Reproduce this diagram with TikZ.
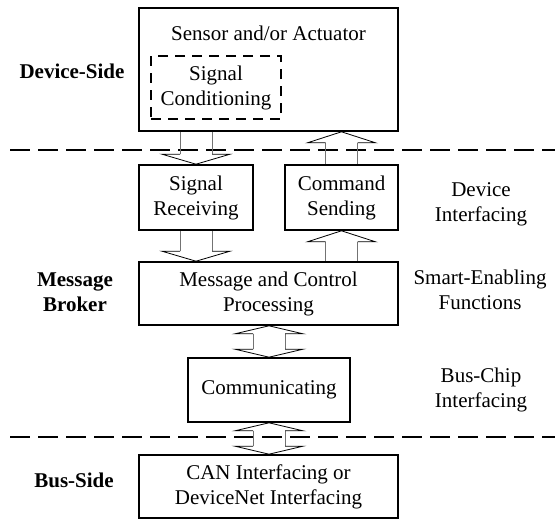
\documentclass[tikz,border=0pt]{standalone}
\usepackage{fontspec}
\setmainfont{Liberation Serif}
\usetikzlibrary{calc,positioning}

% shaft of a hollow arrow, #1 to #2
\newcommand{\hollowshaft}[2]{%
  \draw[shaft line] ($(#1)+(-16,0)$) -- ($(#2)+(-16,0)$)
                    ($(#1)+(16,0)$) -- ($(#2)+(16,0)$);}
% head of a hollow arrow, tip #1, base #2
\newcommand{\hollowhead}[2]{%
  \draw[head line] ($(#2)+(-16,0)$) -- ($(#2)+(-34,0)$) -- (#1)
                   -- ($(#2)+(34,0)$) -- ($(#2)+(16,0)$);}

\begin{document}
\begin{tikzpicture}[x=1pt,y=-1pt,
  font=\fontsize{21}{25}\selectfont,
  box/.style={draw,line width=1.6pt,align=center,inner sep=0pt},
  dashbox/.style={box,dash pattern=on 10pt off 7pt},
  side label/.style={font=\fontsize{21}{25}\selectfont\bfseries,align=center},
  layer label/.style={align=center},
  divider/.style={line width=2.4pt,dash pattern=on 20pt off 8pt},
  shaft line/.style={line width=0.8pt,black!55},
  head line/.style={line width=0.8pt,black}]
  \fill[white] (0,0) rectangle (555,522);
  \useasboundingbox (0,0) rectangle (555,522);

  % device side
  \node[box,minimum width=259,minimum height=123] (sensor) at (268.5,69.5) {};
  \node (sensortitle) at (268.5,33) {Sensor and/or Actuator};
  \node[dashbox,minimum width=130,minimum height=63] (cond) at (216,87.5)
    {Signal\\Conditioning};

  % message broker
  \node[box,minimum width=114,minimum height=65] (recv) at (196,197.5)
    {Signal\\Receiving};
  \node[box,minimum width=113,minimum height=65] (cmd) at (341.5,197.5)
    {Command\\Sending};
  \node[box,minimum width=259,minimum height=63] (msg) at (268.5,293.5)
    {Message and Control\\Processing};
  \node[box,minimum width=162,minimum height=64] (comm) at (269,390)
    {Communicating};

  % bus side
  \node[box,minimum width=259,minimum height=63] (can) at (268.5,486.5)
    {CAN Interfacing or\\DeviceNet Interfacing};

  % labels
  \node[side label] (devside) at (72,71) {Device-Side};
  \node[side label] (broker) at (75,292) {Message\\Broker};
  \node[side label] (busside) at (74,480) {Bus-Side};
  \node[layer label] (devif) at (481,204) {Device\\Interfacing};
  \node[layer label] (smart) at (480,290) {Smart-Enabling\\Functions};
  \node[layer label] (busif) at (481,390) {Bus-Chip\\Interfacing};

  % dividers
  \draw[divider] (10,150) -- (555,150);
  \draw[divider] (10,437) -- (555,437);

  % sensor -> signal receiving
  \coordinate (a1t) at (recv.north |- sensor.south);
  \coordinate (a1b) at ($(recv.north)+(0,-10)$);
  \hollowshaft{a1t}{a1b}
  \hollowhead{recv.north}{a1b}
  % command sending -> actuator
  \coordinate (a2h) at (cmd.north |- sensor.south);
  \coordinate (a2b) at ($(a2h)+(0,11)$);
  \hollowshaft{cmd.north}{a2b}
  \hollowhead{a2h}{a2b}
  % signal receiving -> processing
  \coordinate (a3h) at (recv.south |- msg.north);
  \coordinate (a3b) at ($(a3h)+(0,-10)$);
  \hollowshaft{recv.south}{a3b}
  \hollowhead{a3h}{a3b}
  % processing -> command sending
  \coordinate (a4t) at (cmd.south |- msg.north);
  \coordinate (a4b) at ($(cmd.south)+(0,11)$);
  \hollowshaft{a4t}{a4b}
  \hollowhead{cmd.south}{a4b}
  % processing <-> communicating
  \coordinate (a5h) at (comm.north |- msg.south);
  \coordinate (a5b) at ($(a5h)+(0,8)$);
  \coordinate (a5c) at ($(comm.north)+(0,-8)$);
  \hollowshaft{a5b}{a5c}
  \hollowhead{a5h}{a5b}
  \hollowhead{comm.north}{a5c}
  % communicating <-> bus interfacing
  \coordinate (a6b) at ($(comm.south)+(0,8)$);
  \coordinate (a6h) at (comm.south |- can.north);
  \coordinate (a6c) at ($(a6h)+(0,-8)$);
  \hollowshaft{a6b}{a6c}
  \hollowhead{comm.south}{a6b}
  \hollowhead{a6h}{a6c}
\end{tikzpicture}
\end{document}
